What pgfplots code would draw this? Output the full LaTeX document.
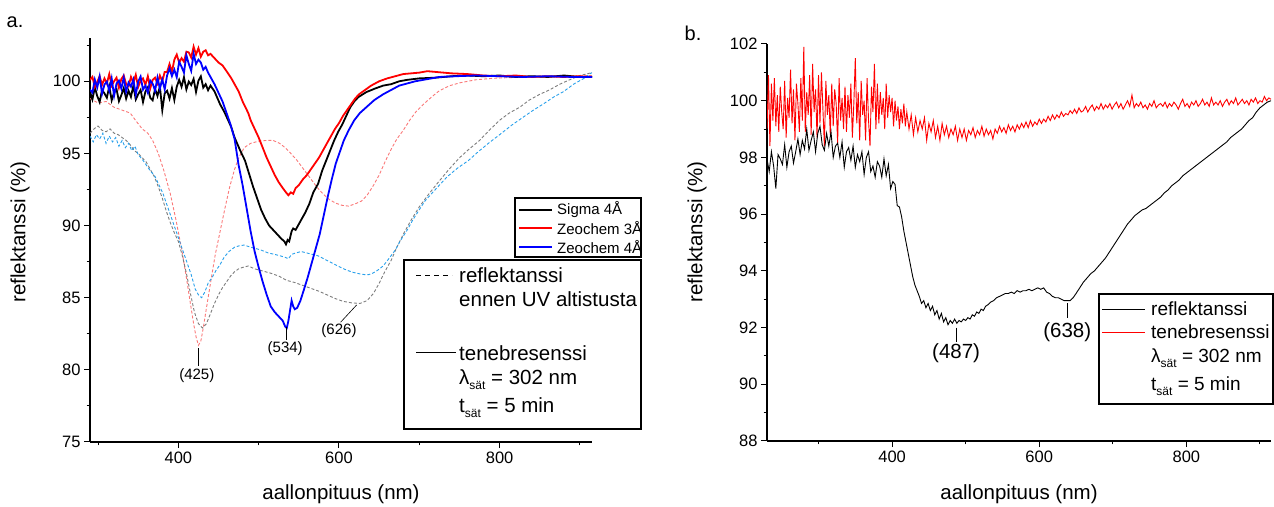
\documentclass[border=0pt]{standalone}
\usepackage{pgfplots}
\pgfplotsset{compat=1.18}
\usepackage{fontspec}
\setmainfont{Liberation Sans}
\definecolor{dred}{RGB}{250,120,120}
\definecolor{dgrey}{RGB}{125,125,125}
\definecolor{dblue}{RGB}{40,160,235}
\pgfplotsset{
  myax/.style={
    anchor=south west, scale only axis,
    axis x line*=bottom, axis y line*=left,
    tick align=outside, major tick length=6pt, minor tick length=3.5pt,
    every tick/.style={black, line width=1pt},
    axis line style={line width=1.3pt},
    tick label style={font=\fontsize{16.5}{18}\selectfont},
    /pgf/number format/assume math mode=true,
    xtick={400,600,800}, minor xtick={300,500,700,900},
  }
}
\newcommand{\sub}[1]{\raisebox{-5pt}{\fontsize{12}{12}\selectfont #1}}
\begin{document}
\begin{tikzpicture}
\path[use as bounding box] (0pt,0pt) rectangle (1274pt,506pt);
% ---------------- panel a ----------------
\begin{axis}[myax, at={(90pt,64pt)}, width=502pt, height=404pt,
  xmin=290, xmax=915, ymin=75, ymax=103,
  ytick={75,80,...,100}, minor ytick={77.5,82.5,...,102.5}]
% dashed light red
\addplot[dred, line width=0.9pt, dash pattern=on 3pt off 2pt] coordinates {
(290,98.8)(300,98.5)(310,98.6)(320,98.2)(330,98.0)(340,97.8)(348,97.2)(355,96.7)(362,96.4)(368,95.9)(375,95.0)(382,93.8)(390,92.2)(397,90.4)(404,88.4)(410,86.4)(415,84.6)(419,83.2)(422,82.3)(425,81.7)(428,82.0)(431,82.9)(435,84.3)(440,86.0)(446,88.0)(452,89.6)(458,91.2)(464,92.7)(470,93.9)(476,94.8)(482,95.4)(490,95.7)(500,95.85)(510,95.9)(518,95.9)(526,95.7)(533,95.4)(540,95.0)(548,94.5)(556,93.9)(564,93.3)(572,92.7)(580,92.2)(588,91.8)(596,91.55)(604,91.4)(612,91.35)(620,91.5)(628,91.7)(635,92.1)(642,92.7)(650,93.5)(658,94.5)(665,95.3)(672,96.0)(680,96.6)(688,97.3)(696,97.9)(705,98.4)(715,98.9)(725,99.35)(738,99.7)(751,99.9)(770,100.1)(790,100.2)(810,100.25)(840,100.3)(870,100.3)(900,100.35)(915,100.4)};
% dashed grey
\addplot[dgrey, line width=0.9pt, dash pattern=on 3pt off 2pt] coordinates {
(290,96.4)(295,96.7)(300,96.9)(305,96.6)(310,96.5)(315,96.7)(320,96.4)(325,96.3)(330,96.1)(335,95.9)(340,95.6)(345,95.2)(350,95.0)(355,94.7)(360,94.4)(365,93.9)(370,93.4)(375,92.7)(380,91.9)(385,91.0)(390,90.2)(395,89.5)(400,88.9)(405,87.9)(410,86.7)(415,85.3)(420,84.0)(425,83.2)(430,82.9)(435,83.2)(440,83.9)(445,84.6)(450,85.2)(455,85.7)(460,86.1)(465,86.5)(470,86.8)(475,87.0)(480,87.1)(487,87.2)(495,87.0)(505,86.85)(515,86.7)(525,86.5)(535,86.2)(545,86.05)(555,85.85)(565,85.65)(575,85.45)(585,85.2)(595,84.95)(605,84.75)(615,84.65)(626,84.6)(635,84.8)(643,85.3)(650,86.0)(657,86.8)(665,87.6)(672,88.5)(680,89.4)(690,90.4)(700,91.3)(712,92.2)(725,93.1)(737,93.9)(750,94.7)(762,95.3)(775,95.9)(787,96.6)(800,97.3)(812,97.8)(825,98.2)(837,98.7)(850,99.1)(862,99.4)(875,99.8)(887,100.1)(900,100.4)(915,100.6)};
% dashed light blue
\addplot[dblue, line width=0.9pt, dash pattern=on 3pt off 2pt] coordinates {
(290,96.2)(294,95.8)(298,96.3)(302,96.0)(306,96.4)(310,95.7)(314,96.2)(318,95.8)(322,96.1)(326,95.5)(330,95.9)(334,95.4)(338,95.7)(342,95.2)(346,95.5)(350,94.9)(355,94.6)(360,94.2)(365,93.8)(371,93.4)(376,92.8)(381,92.2)(386,91.4)(391,90.6)(396,89.8)(401,89.0)(406,88.2)(411,87.4)(416,86.6)(421,85.6)(425,85.2)(429,85.0)(433,85.4)(437,86.0)(442,86.4)(447,86.9)(452,87.3)(457,87.8)(463,88.2)(470,88.5)(476,88.6)(482,88.65)(490,88.5)(497,88.4)(503,88.3)(512,88.1)(520,88.0)(527,87.9)(533,87.8)(537,87.7)(541,88.0)(546,88.1)(553,88.2)(560,88.1)(567,88.0)(574,87.9)(581,87.7)(588,87.5)(595,87.3)(602,87.1)(610,86.9)(618,86.75)(626,86.65)(632,86.6)(637,86.6)(642,86.7)(648,86.9)(655,87.2)(662,87.7)(670,88.3)(677,89.0)(685,89.7)(692,90.4)(700,91.1)(707,91.7)(715,92.2)(725,92.8)(735,93.4)(748,94.0)(761,94.5)(773,95.1)(786,95.7)(800,96.3)(816,97.0)(829,97.5)(842,98.0)(855,98.45)(867,98.9)(880,99.3)(892,99.8)(905,100.2)(912,100.5)(915,100.6)};
% solid black (Sigma 4A)
\addplot[black, line width=1.8pt] coordinates {
(290,99.28)(293,98.74)(296,99.58)(299,98.98)(302,98.56)(305,99.40)(308,99.16)(311,98.86)(314,99.64)(317,98.68)(320,99.22)(323,99.46)(326,98.62)(329,99.04)(332,99.52)(335,98.80)(338,99.34)(341,98.92)(344,99.70)(347,98.74)(350,99.10)(353,99.40)(356,98.56)(359,99.28)(362,99.58)(365,98.86)(368,98.68)(371,99.46)(374,98.98)(377,99.64)(380,98.0)(383,99.16)(386,99.34)(389,98.80)(392,99.52)(395,98.70)(398,99.62)(401,100.1)(404,99.62)(407,100.28)(410,99.44)(413,99.98)(416,99.74)(419,100.16)(422,99.26)(425,100.04)(428,100.34)(431,99.56)(434,99.8)(437,99.38)(440,99.7)
(445,99.3)(452,98.4)(457,97.9)(462,97.3)(466,96.8)(470,96.1)(477,95.2)(483,94.5)(488,93.6)(493,92.7)(498,91.9)(503,91.1)(508,90.5)(513,90.0)(518,89.7)(523,89.4)(528,89.1)(532,88.9)(534,88.7)(536,89.0)(538,88.9)(541,89.6)(543,89.8)(546,89.7)(550,90.1)(553,90.4)(558,90.9)(563,91.5)(568,92.3)(574,92.9)(579,93.8)(584,94.5)(589,95.2)(594,95.9)(599,96.5)(604,97.0)(609,97.6)(614,98.2)(619,98.6)(624,98.9)(634,99.25)(645,99.5)(655,99.7)(665,99.8)(675,100.0)(685,100.1)(700,100.2)(720,100.25)(740,100.35)(760,100.4)(780,100.35)(800,100.4)(820,100.3)(840,100.35)(860,100.3)(880,100.4)(900,100.3)(915,100.3)};
% solid red (Zeochem 3A)
\addplot[red, line width=1.8pt] coordinates {
(290,100.10)(293,100.30)(296,99.60)(299,99.95)(302,100.35)(305,99.75)(308,100.20)(311,99.85)(314,100.50)(317,99.70)(320,100.00)(323,100.25)(326,99.55)(329,100.15)(332,100.40)(335,99.80)(338,99.65)(341,100.30)(344,99.90)(347,100.45)(350,99.60)(353,100.05)(356,100.20)(359,99.75)(362,100.35)(365,99.50)(368,100.10)(371,100.25)(374,99.85)(377,100.40)(380,100.0)(383,100.65)(386,100.65)(389,101.2)(392,100.65)(395,101.5)(398,101.85)(401,101.3)(404,101.6)(407,101.35)(410,102.05)(413,102.0)(416,101.65)(419,102.4)(422,101.85)(425,102.3)(428,101.7)(431,102.05)(434,102.15)(437,101.8)(440,101.9)
(445,101.6)(450,101.3)(455,101.1)(460,100.7)(466,100.2)(470,99.8)(475,99.3)(480,98.6)(487,97.8)(490,97.3)(495,96.7)(500,96.1)(505,95.4)(510,94.7)(515,94.1)(520,93.5)(525,93.0)(530,92.6)(534,92.3)(537,92.1)(540,92.3)(543,92.2)(546,92.6)(550,92.8)(555,93.2)(560,93.5)(565,93.9)(570,94.3)(575,94.7)(580,95.2)(585,95.7)(590,96.2)(595,96.7)(600,97.1)(605,97.6)(610,98.0)(615,98.4)(620,98.8)(625,99.1)(630,99.3)(640,99.7)(650,100.0)(660,100.2)(670,100.35)(680,100.5)(690,100.55)(700,100.6)(710,100.7)(720,100.65)(730,100.6)(740,100.55)(760,100.5)(780,100.4)(800,100.35)(820,100.4)(840,100.3)(860,100.35)(880,100.3)(900,100.35)(915,100.3)};
% solid blue (Zeochem 4A)
\addplot[blue, line width=1.8pt] coordinates {
(290,99.42)(293,99.21)(296,100.12)(299,99.56)(302,100.33)(305,99.14)(308,99.77)(311,99.98)(314,99.35)(317,100.19)(320,99.0)(323,99.84)(326,100.05)(329,99.49)(332,100.26)(335,99.28)(338,99.91)(341,99.63)(344,100.12)(347,99.07)(350,99.98)(353,100.33)(356,99.42)(359,99.70)(362,99.21)(365,100.05)(368,99.84)(371,99.35)(374,100.26)(377,99.49)(380,100.12)(383,99.44)(386,100.41)(389,100.89)(392,100.36)(395,100.81)(398,100.28)(401,101.36)(404,101.0)(407,100.6)(410,101.8)(413,101.2)(416,100.72)(419,101.9)(422,101.2)(425,101.5)(428,101.3)(431,100.8)(434,101.0)(437,100.6)(440,100.3)
(445,99.8)(450,99.2)(455,98.6)(460,97.8)(465,97.0)(470,96.0)(475,94.2)(480,92.8)(485,91.2)(490,89.6)(495,88.2)(500,87.1)(505,86.1)(510,85.2)(515,84.4)(520,84.0)(525,83.7)(530,83.4)(533,83.0)(535,82.9)(537,83.4)(539,84.1)(541,84.8)(543,84.4)(545,84.2)(548,84.3)(552,84.8)(556,85.5)(561,86.4)(566,87.4)(571,88.4)(576,89.4)(581,90.7)(586,92.0)(591,93.2)(596,94.3)(601,95.1)(606,95.9)(612,96.6)(619,97.3)(626,97.8)(634,98.2)(644,98.7)(655,99.1)(665,99.4)(675,99.7)(685,99.85)(695,100.0)(710,100.15)(725,100.3)(745,100.35)(770,100.4)(800,100.35)(830,100.3)(860,100.35)(890,100.3)(915,100.3)};
% annotations
\draw[black, line width=0.6pt] (axis cs:425,81.5) -- (axis cs:425,80.3);
\node[font=\fontsize{15}{16}\selectfont] at (axis cs:423,79.6) {(425)};
\draw[black, line width=0.6pt] (axis cs:534,83.0) -- (axis cs:534,82.1);
\node[font=\fontsize{15}{16}\selectfont] at (axis cs:533,81.5) {(534)};
\draw[black, line width=0.6pt] (axis cs:602,83.3) -- (axis cs:622,84.5);
\node[font=\fontsize{15}{16}\selectfont] at (axis cs:600,82.7) {(626)};
\end{axis}
% ---------------- panel b ----------------
\begin{axis}[myax, at={(767pt,65pt)}, width=504pt, height=397pt,
  xmin=230, xmax=915, ymin=88, ymax=102,
  ytick={88,90,...,102}, minor ytick={89,91,...,101}]
\addplot[red, line width=0.9pt] coordinates {
(230,99.0)(232,100.9)(234,98.4)(236,100.6)(238,99.3)(240,100.8)(242,99.1)(244,100.2)(246,98.9)(248,100.5)(250,99.6)(252,99.0)(254,100.7)(256,98.7)(258,100.1)(260,99.4)(262,101.1)(264,99.2)(266,100.4)(268,98.6)(270,100.6)(272,99.9)(274,98.9)(276,100.8)(278,99.3)(280,101.9)(282,98.9)(284,100.3)(286,99.5)(288,100.9)(290,98.8)(292,101.3)(294,99.6)(296,100.4)(298,98.7)(300,100.9)(302,99.2)(304,101.0)(306,99.7)(308,98.4)(310,100.7)(312,99.5)(314,100.2)(316,98.8)(318,100.6)(320,99.1)(322,100.4)(324,99.9)(326,98.5)(328,100.8)(330,99.3)(332,100.1)(334,99.0)(336,100.5)(338,98.9)(340,100.2)(342,99.4)(344,100.6)(346,98.7)(348,99.9)(350,101.5)(352,99.2)(354,100.3)(356,98.6)(358,100.7)(360,99.5)(362,100.0)(364,98.6)(366,100.8)(368,99.3)(370,98.4)(372,100.5)(374,99.6)(376,101.3)(378,99.0)(380,100.6)(382,99.2)(384,100.3)(386,99.5)(388,100.1)(390,99.0)(392,100.6)(394,99.4)(396,100.2)(398,99.6)(400,100.1)(402,99.1)(404,100.0)(406,99.3)(408,99.8)(410,99.0)(412,99.7)(414,99.2)(416,99.9)(418,99.1)(420,99.6)
(423,99.0)(426,99.5)(429,98.8)(432,99.4)(435,98.9)(438,99.3)(441,99.0)(444,99.4)(447,98.6)(450,99.2)(453,98.9)(456,99.3)(459,98.7)(462,99.1)(465,98.6)(468,99.2)(471,98.8)(474,99.1)(477,98.7)(480,99.0)(483,98.8)(486,99.1)(489,98.6)(492,99.0)(495,98.7)(498,99.0)(501,98.6)(504,98.95)(507,98.8)(510,99.05)(513,98.7)(516,98.95)(519,98.8)(522,99.1)(525,98.75)(528,99.0)(531,98.8)(534,98.95)(537,98.65)(540,99.0)(543,98.85)(546,99.1)(549,98.9)(552,99.05)(555,98.85)(558,99.15)(561,98.95)(564,99.1)(567,98.9)(570,99.15)(573,99.0)(576,99.2)(579,99.05)(582,99.25)(585,99.05)(588,99.3)(591,99.1)(594,99.25)(597,99.15)(600,99.35)
(603,99.2)(606,99.35)(609,99.25)(612,99.45)(615,99.3)(618,99.5)(621,99.35)(624,99.5)(627,99.4)(630,99.6)(633,99.45)(636,99.55)(639,99.5)(642,99.65)(645,99.55)(648,99.7)(651,99.55)(654,99.75)(657,99.6)(660,99.65)(663,99.8)(666,99.6)(669,99.75)(672,99.85)(675,99.65)(678,99.8)(681,99.7)(684,99.9)(687,99.7)(690,99.85)(693,99.75)(696,99.9)(699,99.7)(702,99.85)(705,99.95)(708,99.75)(711,99.9)(714,99.7)(717,99.85)(720,100.0)(723,99.8)(726,100.2)(729,99.75)(732,99.9)(735,99.8)(738,99.95)(741,99.75)(744,99.85)(747,99.7)(750,99.9)(753,99.8)(756,100.0)(759,99.75)(762,99.85)(765,99.9)(768,99.8)(771,99.95)(774,99.75)(777,99.9)(780,99.8)(783,99.95)(786,99.85)(789,99.7)(792,99.9)(795,100.05)(798,99.8)
(801,99.9)(804,99.75)(807,99.95)(810,99.85)(813,100.0)(816,99.8)(819,99.9)(822,100.05)(825,99.85)(828,99.95)(831,99.8)(834,100.1)(837,99.85)(840,99.95)(843,99.85)(846,100.0)(849,99.8)(852,99.95)(855,100.05)(858,99.85)(861,100.0)(864,99.9)(867,100.1)(870,99.85)(873,99.95)(876,100.05)(879,99.9)(882,100.0)(885,99.85)(888,100.05)(891,99.95)(894,100.1)(897,99.9)(900,100.0)(903,99.95)(906,100.15)(909,100.0)(912,100.1)(915,100.05)};
\addplot[black, line width=0.9pt] coordinates {
(230,97.95)(233,97.5)(236,98.2)(239,97.7)(242,96.9)(245,98.1)(248,97.95)(251,97.75)(254,98.45)(257,97.65)(260,98.2)(263,98.4)(266,97.8)(269,98.2)(272,98.65)(275,98.1)(278,98.6)(281,98.3)(284,99.0)(287,98.25)(290,98.6)(293,98.9)(296,98.2)(299,98.85)(302,99.1)(305,98.45)(308,98.25)(311,98.85)(314,98.4)(317,98.9)(320,98.0)(323,98.4)(326,98.5)(329,98.0)(332,98.55)(335,97.65)(338,98.2)(341,98.35)(344,97.9)(347,98.4)(350,97.65)(353,98.1)(356,97.85)(359,98.2)(362,97.4)(365,98.0)(368,98.2)(371,97.5)(374,97.7)(377,97.3)(380,97.85)(383,97.7)(386,97.3)(389,97.95)(392,97.35)(395,97.75)(398,96.9)(401,97.15)(404,97.05)(407,96.3)(410,96.25)
(413,95.9)(416,95.4)(419,95.0)(422,94.6)(425,94.2)(428,93.8)(431,93.5)(434,93.3)(437,93.1)(440,92.85)(443,92.95)(446,92.7)(449,92.85)(452,92.6)(455,92.75)(458,92.45)(461,92.6)(464,92.3)(467,92.5)(470,92.2)(473,92.35)(476,92.1)(479,92.25)(482,92.15)(485,92.3)(488,92.15)(491,92.25)(494,92.2)(497,92.3)(500,92.25)(503,92.35)(506,92.3)(509,92.45)(512,92.4)(515,92.55)(518,92.5)(521,92.65)(524,92.6)(527,92.75)(530,92.8)(534,92.9)(538,92.95)(542,93.05)(546,93.1)(550,93.15)(554,93.2)(558,93.2)(562,93.25)(566,93.2)(570,93.3)(574,93.25)(578,93.3)(582,93.3)(586,93.35)(590,93.3)(594,93.35)(598,93.4)(602,93.35)(606,93.4)(610,93.25)(614,93.2)(618,93.1)(622,93.05)(626,93.05)(630,93.0)(634,92.95)(638,92.95)(642,92.95)(646,93.05)(650,93.2)(655,93.4)(660,93.6)(665,93.75)(670,93.9)(675,94.0)(680,94.15)(685,94.3)(690,94.45)(695,94.65)(700,94.85)(705,95.05)(710,95.25)(715,95.45)(720,95.65)(725,95.8)(730,95.95)(735,96.05)(740,96.15)(745,96.2)(750,96.3)(755,96.4)(760,96.5)(765,96.6)(770,96.75)(775,96.85)(780,97.0)(785,97.1)(790,97.2)(795,97.35)(800,97.45)(805,97.55)(810,97.65)(815,97.75)(820,97.85)(825,97.95)(830,98.05)(835,98.15)(840,98.25)(845,98.35)(850,98.45)(855,98.55)(860,98.7)(865,98.8)(870,98.9)(875,99.0)(880,99.15)(885,99.3)(890,99.4)(895,99.6)(900,99.75)(905,99.85)(910,99.95)(915,100.0)};
\draw[black, line width=0.6pt] (axis cs:487,92.0) -- (axis cs:487,91.5);
\node[font=\fontsize{20.5}{22}\selectfont] at (axis cs:487,91.1) {(487)};
\draw[black, line width=0.6pt] (axis cs:638,92.85) -- (axis cs:638,92.35);
\node[font=\fontsize{20.5}{22}\selectfont] at (axis cs:638,91.85) {(638)};
\end{axis}
% ---------------- labels ----------------
\node[font=\fontsize{20}{22}\selectfont] at (15pt,484pt) {a.};
\node[font=\fontsize{20}{22}\selectfont] at (693pt,473pt) {b.};
\node[font=\fontsize{20.5}{22}\selectfont, rotate=90] at (20pt,274pt) {reflektanssi (\%)};
\node[font=\fontsize{20.5}{22}\selectfont, rotate=90] at (697pt,274pt) {reflektanssi (\%)};
\node[font=\fontsize{20.5}{22}\selectfont] at (341pt,12pt) {aallonpituus (nm)};
\node[font=\fontsize{20.5}{22}\selectfont] at (1019pt,12pt) {aallonpituus (nm)};
% legend a small
\draw[line width=1.1pt, fill=white] (515pt,249pt) rectangle (641pt,308pt);
\draw[black, line width=1.8pt] (519pt,296pt) -- (552pt,296pt);
\draw[red, line width=1.8pt] (519pt,278pt) -- (552pt,278pt);
\draw[blue, line width=1.8pt] (519pt,259pt) -- (552pt,259pt);
\begin{scope}[every node/.style={anchor=west, inner sep=0pt, font=\fontsize{15}{16}\selectfont}]
\node at (557pt,296pt) {Sigma 4Å};
\node at (557pt,278pt) {Zeochem 3Å};
\node at (557pt,259pt) {Zeochem 4Å};
\end{scope}
% legend a big
\draw[line width=1.1pt, fill=white] (404pt,77pt) rectangle (641pt,246pt);
\draw[black, line width=0.9pt, dash pattern=on 5pt off 4pt] (416pt,231pt) -- (452pt,231pt);
\draw[black, line width=0.9pt] (416pt,154pt) -- (456pt,154pt);
\begin{scope}[every node/.style={anchor=west, inner sep=0pt, font=\fontsize{20.5}{22}\selectfont}]
\node at (459pt,231pt) {reflektanssi};
\node at (459pt,207pt) {ennen UV altistusta};
\node at (459pt,153pt) {tenebresenssi};
\node at (459pt,126pt) {λ\sub{sät} = 302 nm};
\node at (459pt,98pt) {t\sub{sät} = 5 min};
\end{scope}
% legend b
\draw[line width=1.1pt, fill=white] (1099pt,102pt) rectangle (1273pt,212pt);
\draw[black, line width=0.9pt] (1102pt,197pt) -- (1145pt,197pt);
\draw[red, line width=0.9pt] (1102pt,174pt) -- (1145pt,174pt);
\begin{scope}[every node/.style={anchor=west, inner sep=0pt, font=\fontsize{19}{20}\selectfont}]
\node at (1151pt,197pt) {reflektanssi};
\node at (1151pt,174pt) {tenebresenssi};
\node at (1151pt,148pt) {λ\sub{sät} = 302 nm};
\node at (1151pt,120pt) {t\sub{sät} = 5 min};
\end{scope}
\end{tikzpicture}
\end{document}
